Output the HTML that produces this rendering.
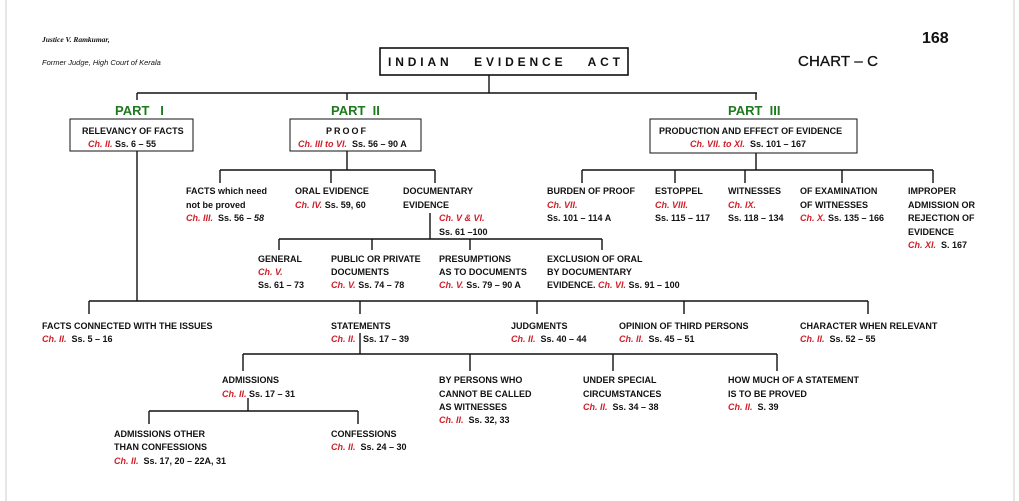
<!DOCTYPE html>
<html><head><meta charset="utf-8"><style>
html,body{margin:0;padding:0;background:#fff;width:1019px;height:501px;overflow:hidden}
svg{display:block}
text{font-family:"Liberation Sans",sans-serif;font-size:9px;font-weight:bold;fill:#111;white-space:pre}
.r{fill:#d0202a;font-style:italic;font-weight:bold}
.g{fill:#1f7a1f;font-size:13px}
</style></head><body>
<svg width="1019" height="501" viewBox="0 0 1019 501">
<rect x="0" y="0" width="1019" height="501" fill="#fff"/>
<line x1="6" y1="0" x2="6" y2="501" stroke="#e6e6e6" stroke-width="2"/>
<line x1="1014" y1="0" x2="1014" y2="501" stroke="#e6e6e6" stroke-width="2"/>
<g stroke="#111" stroke-width="1.4" fill="none">
<rect x="380" y="48" width="248" height="27" stroke-width="1.6"/>
<rect x="70" y="119" width="123" height="32" stroke-width="1"/>
<rect x="290" y="119" width="131" height="32" stroke-width="1"/>
<rect x="650" y="119" width="207" height="34" stroke-width="1"/>
<path d="M489 75V93M137 93H757M137 93V100M347 93V100M756 93V100"/>
<path d="M347 151V170M220 170H435M220 170V183M331 170V183M435 170V183"/>
<path d="M430 213V239M279 239H602M279 239V250M372 239V250M470 239V250M602 239V250"/>
<path d="M756 153V170M582 170H933M582 170V183M675 170V183M745 170V183M842 170V183M933 170V183"/>
<path d="M137 151V301M89 301H868M89 301V314M360 301V314M537 301V314M684 301V314M868 301V314"/>
<path d="M360 333V354M243 354H777M243 354V371M470 354V371M613 354V371M777 354V371"/>
<path d="M248 398V411M149 411H358M149 411V424M358 411V424"/>
</g>
<text x="42" y="42" style="font-size:7.5px;font-style:italic;font-family:'Liberation Serif',serif">Justice V. Ramkumar,</text>
<text x="42" y="65" style="font-size:7.5px;font-style:italic;font-weight:normal">Former Judge, High Court of Kerala</text>
<text x="922" y="43" style="font-size:16px">168</text>
<text x="798" y="66" style="font-size:15px;font-weight:normal;stroke:#111;stroke-width:0.3" textLength="80">CHART – C</text>
<text x="388" y="66" style="font-size:12px" textLength="232" lengthAdjust="spacing">INDIAN   EVIDENCE   ACT</text>
<text class="g" x="115" y="115">PART   I</text>
<text class="g" x="331" y="115">PART  II</text>
<text class="g" x="728" y="115">PART  III</text>
<text x="82" y="134">RELEVANCY OF FACTS</text>
<text x="88" y="147"><tspan class="r">Ch. II.</tspan> Ss. 6 – 55</text>
<text x="326" y="134" style="letter-spacing:2px">PROOF</text>
<text x="298" y="147"><tspan class="r">Ch. III to VI.</tspan>  Ss. 56 – 90 A</text>
<text x="659" y="134">PRODUCTION AND EFFECT OF EVIDENCE</text>
<text x="690" y="147"><tspan class="r">Ch. VII. to XI.</tspan>  Ss. 101 – 167</text>

<text x="186" y="194">FACTS which need</text>
<text x="186" y="208">not be proved</text>
<text x="186" y="221"><tspan class="r">Ch. III.</tspan>  Ss. 56 – <tspan style="font-style:italic">58</tspan></text>
<text x="295" y="194">ORAL EVIDENCE</text>
<text x="295" y="208"><tspan class="r">Ch. IV.</tspan> Ss. 59, 60</text>
<text x="403" y="194">DOCUMENTARY</text>
<text x="403" y="208">EVIDENCE</text>
<text class="r" x="439" y="221">Ch. V &amp; VI.</text>
<text x="439" y="235">Ss. 61 –100</text>

<text x="547" y="194">BURDEN OF PROOF</text>
<text class="r" x="547" y="208">Ch. VII.</text>
<text x="547" y="221">Ss. 101 – 114 A</text>
<text x="655" y="194">ESTOPPEL</text>
<text class="r" x="655" y="208">Ch. VIII.</text>
<text x="655" y="221">Ss. 115 – 117</text>
<text x="728" y="194">WITNESSES</text>
<text class="r" x="728" y="208">Ch. IX.</text>
<text x="728" y="221">Ss. 118 – 134</text>
<text x="800" y="194">OF EXAMINATION</text>
<text x="800" y="208">OF WITNESSES</text>
<text x="800" y="221"><tspan class="r">Ch. X.</tspan> Ss. 135 – 166</text>
<text x="908" y="194">IMPROPER</text>
<text x="908" y="208">ADMISSION OR</text>
<text x="908" y="221">REJECTION OF</text>
<text x="908" y="235">EVIDENCE</text>
<text x="908" y="248"><tspan class="r">Ch. XI.</tspan>  S. 167</text>

<text x="258" y="262">GENERAL</text>
<text class="r" x="258" y="275">Ch. V.</text>
<text x="258" y="288">Ss. 61 – 73</text>
<text x="331" y="262">PUBLIC OR PRIVATE</text>
<text x="331" y="275">DOCUMENTS</text>
<text x="331" y="288"><tspan class="r">Ch. V.</tspan> Ss. 74 – 78</text>
<text x="439" y="262">PRESUMPTIONS</text>
<text x="439" y="275">AS TO DOCUMENTS</text>
<text x="439" y="288"><tspan class="r">Ch. V.</tspan> Ss. 79 – 90 A</text>
<text x="547" y="262">EXCLUSION OF ORAL</text>
<text x="547" y="275">BY DOCUMENTARY</text>
<text x="547" y="288">EVIDENCE. <tspan class="r">Ch. VI.</tspan> Ss. 91 – 100</text>

<text x="42" y="329">FACTS CONNECTED WITH THE ISSUES</text>
<text x="42" y="342"><tspan class="r">Ch. II.</tspan>  Ss. 5 – 16</text>
<text x="331" y="329">STATEMENTS</text>
<text x="331" y="342"><tspan class="r">Ch. II.</tspan>   Ss. 17 – 39</text>
<text x="511" y="329">JUDGMENTS</text>
<text x="511" y="342"><tspan class="r">Ch. II.</tspan>  Ss. 40 – 44</text>
<text x="619" y="329">OPINION OF THIRD PERSONS</text>
<text x="619" y="342"><tspan class="r">Ch. II.</tspan>  Ss. 45 – 51</text>
<text x="800" y="329">CHARACTER WHEN RELEVANT</text>
<text x="800" y="342"><tspan class="r">Ch. II.</tspan>  Ss. 52 – 55</text>

<text x="222" y="383">ADMISSIONS</text>
<text x="222" y="397"><tspan class="r">Ch. II.</tspan> Ss. 17 – 31</text>
<text x="439" y="383">BY PERSONS WHO</text>
<text x="439" y="397">CANNOT BE CALLED</text>
<text x="439" y="410">AS WITNESSES</text>
<text x="439" y="423"><tspan class="r">Ch. II.</tspan>  Ss. 32, 33</text>
<text x="583" y="383">UNDER SPECIAL</text>
<text x="583" y="397">CIRCUMSTANCES</text>
<text x="583" y="410"><tspan class="r">Ch. II.</tspan>  Ss. 34 – 38</text>
<text x="728" y="383">HOW MUCH OF A STATEMENT</text>
<text x="728" y="397">IS TO BE PROVED</text>
<text x="728" y="410"><tspan class="r">Ch. II.</tspan>  S. 39</text>

<text x="114" y="437">ADMISSIONS OTHER</text>
<text x="114" y="450">THAN CONFESSIONS</text>
<text x="114" y="464"><tspan class="r">Ch. II.</tspan>  Ss. 17, 20 – 22A, 31</text>
<text x="331" y="437">CONFESSIONS</text>
<text x="331" y="450"><tspan class="r">Ch. II.</tspan>  Ss. 24 – 30</text>
</svg>
</body></html>
